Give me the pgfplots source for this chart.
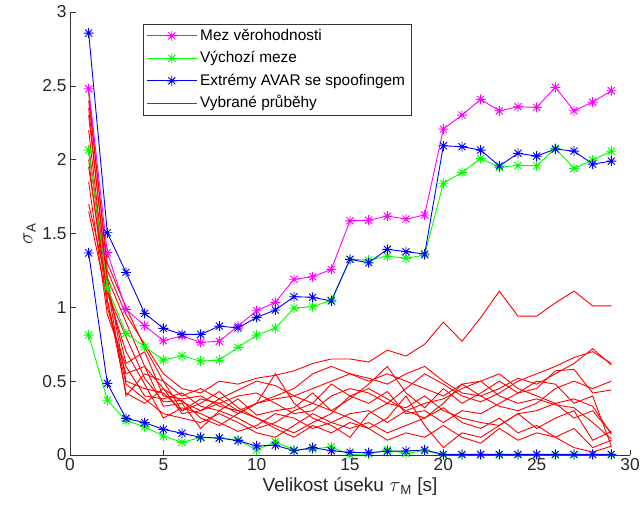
\documentclass[border=0pt]{standalone}
\usepackage{fontspec}
\setmainfont{Liberation Sans}
\usepackage{pgfplots}
\usepackage{pgfplotstable}
\pgfplotsset{compat=1.18}

\pgfdeclareplotmark{ast8}{%
  \pgfpathmoveto{\pgfpoint{-\pgfplotmarksize}{0pt}}%
  \pgfpathlineto{\pgfpoint{\pgfplotmarksize}{0pt}}%
  \pgfpathmoveto{\pgfpoint{0pt}{-\pgfplotmarksize}}%
  \pgfpathlineto{\pgfpoint{0pt}{\pgfplotmarksize}}%
  \pgfpathmoveto{\pgfpoint{-0.707\pgfplotmarksize}{-0.707\pgfplotmarksize}}%
  \pgfpathlineto{\pgfpoint{0.707\pgfplotmarksize}{0.707\pgfplotmarksize}}%
  \pgfpathmoveto{\pgfpoint{-0.707\pgfplotmarksize}{0.707\pgfplotmarksize}}%
  \pgfpathlineto{\pgfpoint{0.707\pgfplotmarksize}{-0.707\pgfplotmarksize}}%
  \pgfusepathqstroke}

\definecolor{mmag}{rgb}{1,0,1}
\definecolor{mgreen}{rgb}{0,1,0}
\definecolor{mblue}{rgb}{0,0,1}
\definecolor{mred}{rgb}{1,0,0}

\pgfplotstableread{
x  mu    gu    bu    gl    bl
1  2.480 2.065 2.857 0.812 1.368
2  1.370 1.135 1.505 0.372 0.485
3  0.986 0.824 1.237 0.232 0.248
4  0.876 0.733 0.959 0.192 0.219
5  0.774 0.643 0.858 0.129 0.174
6  0.806 0.672 0.817 0.086 0.147
7  0.763 0.636 0.817 0.118 0.120
8  0.770 0.643 0.873 0.115 0.115
9  0.873 0.729 0.860 0.102 0.097
10 0.977 0.812 0.932 0.034 0.061
11 1.034 0.860 0.982 0.090 0.066
12 1.190 0.995 1.072 0.034 0.029
13 1.207 1.004 1.068 0.040 0.050
14 1.257 1.049 1.043 0.056 0.029
15 1.586 1.325 1.325 0.002 0.018
16 1.590 1.320 1.302 0.008 0.016
17 1.618 1.347 1.393 0.035 0.025
18 1.598 1.332 1.377 0.010 0.027
19 1.625 1.354 1.361 0.030 0.034
20 2.207 1.840 2.094 0.002 0.004
21 2.302 1.914 2.088 0.002 0.004
22 2.408 2.009 2.065 0.002 0.004
23 2.331 1.948 1.957 0.002 0.004
24 2.358 1.961 2.043 0.002 0.004
25 2.354 1.959 2.024 0.002 0.004
26 2.490 2.076 2.072 0.002 0.004
27 2.331 1.941 2.058 0.002 0.004
28 2.390 1.997 1.970 0.002 0.004
29 2.467 2.058 1.990 0.002 0.004
}\bounds

\pgfplotstableread{
x  a    b    c    d    e    f    g    h    i    j    k    l
1  2.45 2.35 2.30 2.20 2.10 2.00 1.95 1.85 1.70 1.65 2.05 2.40
2  1.25 1.15 1.20 1.10 1.05 1.00 1.10 0.95 1.15 1.05 1.20 1.30
3  0.95 0.62 0.50 0.80 0.42 0.55 0.70 0.60 0.40 0.48 0.90 1.00
4  0.75 0.70 0.45 0.52 0.35 0.60 0.48 0.40 0.55 0.38 0.60 0.73
5  0.55 0.40 0.42 0.36 0.45 0.33 0.25 0.38 0.50 0.28 0.45 0.50
6  0.45 0.38 0.30 0.37 0.36 0.35 0.32 0.42 0.30 0.25 0.28 0.40
7  0.42 0.40 0.35 0.25 0.30 0.18 0.28 0.33 0.38 0.22 0.30 0.45
8  0.50 0.33 0.43 0.20 0.38 0.30 0.22 0.30 0.35 0.28 0.35 0.38
9  0.48 0.30 0.32 0.28 0.44 0.38 0.16 0.25 0.28 0.22 0.40 0.30
10 0.52 0.35 0.25 0.35 0.50 0.27 0.20 0.18 0.35 0.15 0.42 0.25
11 0.54 0.40 0.20 0.55 0.47 0.30 0.28 0.22 0.38 0.12 0.35 0.18
12 0.57 0.45 0.15 0.35 0.40 0.32 0.25 0.30 0.40 0.20 0.28 0.12
13 0.62 0.55 0.22 0.25 0.35 0.42 0.18 0.35 0.45 0.28 0.30 0.20
14 0.65 0.60 0.28 0.20 0.30 0.30 0.22 0.48 0.50 0.22 0.40 0.15
15 0.65 0.55 0.40 0.12 0.38 0.25 0.28 0.40 0.55 0.18 0.45 0.22
16 0.63 0.52 0.45 0.28 0.48 0.18 0.30 0.35 0.50 0.22 0.42 0.18
17 0.71 0.48 0.38 0.35 0.60 0.25 0.22 0.43 0.55 0.15 0.35 0.10
18 0.67 0.55 0.30 0.32 0.42 0.40 0.30 0.28 0.50 0.20 0.45 0.15
19 0.75 0.60 0.25 0.40 0.32 0.20 0.35 0.30 0.45 0.25 0.55 0.12
20 0.90 0.50 0.35 0.30 0.45 0.05 0.38 0.22 0.40 0.32 0.48 0.20
21 0.77 0.42 0.48 0.25 0.35 0.15 0.45 0.30 0.48 0.22 0.40 0.12
22 0.93 0.40 0.40 0.22 0.42 0.12 0.50 0.28 0.50 0.18 0.36 0.08
23 1.11 0.45 0.33 0.20 0.50 0.20 0.40 0.35 0.55 0.25 0.42 0.18
24 0.94 0.52 0.30 0.28 0.42 0.28 0.35 0.42 0.45 0.15 0.50 0.10
25 0.94 0.48 0.35 0.18 0.45 0.30 0.38 0.50 0.40 0.20 0.55 0.15
26 1.03 0.55 0.45 0.25 0.57 0.35 0.34 0.48 0.35 0.12 0.60 0.12
27 1.11 0.62 0.50 0.30 0.58 0.25 0.32 0.35 0.38 0.18 0.66 0.05
28 1.01 0.72 0.45 0.10 0.42 0.30 0.22 0.40 0.33 0.05 0.70 0.02
29 1.01 0.61 0.50 0.16 0.44 0.15 0.11 0.06 0.14 0.10 0.62 0.06
}\reds

\begin{document}
\begin{tikzpicture}
\begin{axis}[
  at={(0,0)}, anchor=south west,
  scale only axis, width=560bp, height=443bp,
  xmin=0, xmax=30, ymin=0, ymax=3,
  xtick={0,5,...,30}, ytick={0,0.5,...,3},
  yticklabels={0,0.5,1,1.5,2,2.5,3},
  axis x line*=bottom, axis y line*=left,
  axis line style={-, black!80, line width=0.6bp},
  tick style={black!80, line width=0.6bp},
  tick align=inside, major tick length=5.5bp,
  /pgf/number format/assume math mode=true,
  every tick label/.append style={font=\fontsize{17.3bp}{20bp}\selectfont, text=black!85},
  label style={font=\fontsize{19bp}{22bp}\selectfont, text=black!85},
  xlabel={Velikost úseku $\tau$\textsubscript{M} [s]},
  ylabel={$\sigma$\textsubscript{A}},
  clip=false,
  every axis plot/.append style={line width=0.9bp},
  mark size=5bp,
  legend cell align=left,
  legend style={at={(0.1304,0.973)}, anchor=north west, draw=black!80,
    line width=0.6bp, fill=white,
    inner xsep=3bp, inner ysep=0.5bp, row sep=0.3bp,
    nodes={inner sep=3bp, text height=12.4bp, text depth=3.8bp,
      font=\fontsize{15.4bp}{18bp}\selectfont}},
  legend image code/.code={\draw[mark repeat=2,mark phase=2,#1] plot coordinates {(0bp,0bp) (25bp,0bp) (50bp,0bp)};},
]
\foreach \c in {a,b,c,d,e,f,g,h,i,j,k,l}{
  \addplot[mred, forget plot] table[x=x, y=\c] {\reds};
}
\addplot[mmag, mark=ast8, mark options={solid}] table[x=x, y=mu] {\bounds};
\addlegendentry{Mez věrohodnosti}
\addplot[mgreen, mark=ast8, mark options={solid}] table[x=x, y=gu] {\bounds};
\addlegendentry{Výchozí meze}
\addplot[mblue, mark=ast8, mark options={solid}] table[x=x, y=bu] {\bounds};
\addlegendentry{Extrémy AVAR se spoofingem}
\addplot[mgreen, mark=ast8, mark options={solid}, forget plot] table[x=x, y=gl] {\bounds};
\addplot[mblue, mark=ast8, mark options={solid}, forget plot] table[x=x, y=bl] {\bounds};
\addlegendimage{mred, line width=0.9bp}
\addlegendentry{Vybrané průběhy}
\end{axis}
\pgfresetboundingbox
\path[use as bounding box] (-70bp,-63bp) rectangle (573bp,455bp);
\end{tikzpicture}
\end{document}
